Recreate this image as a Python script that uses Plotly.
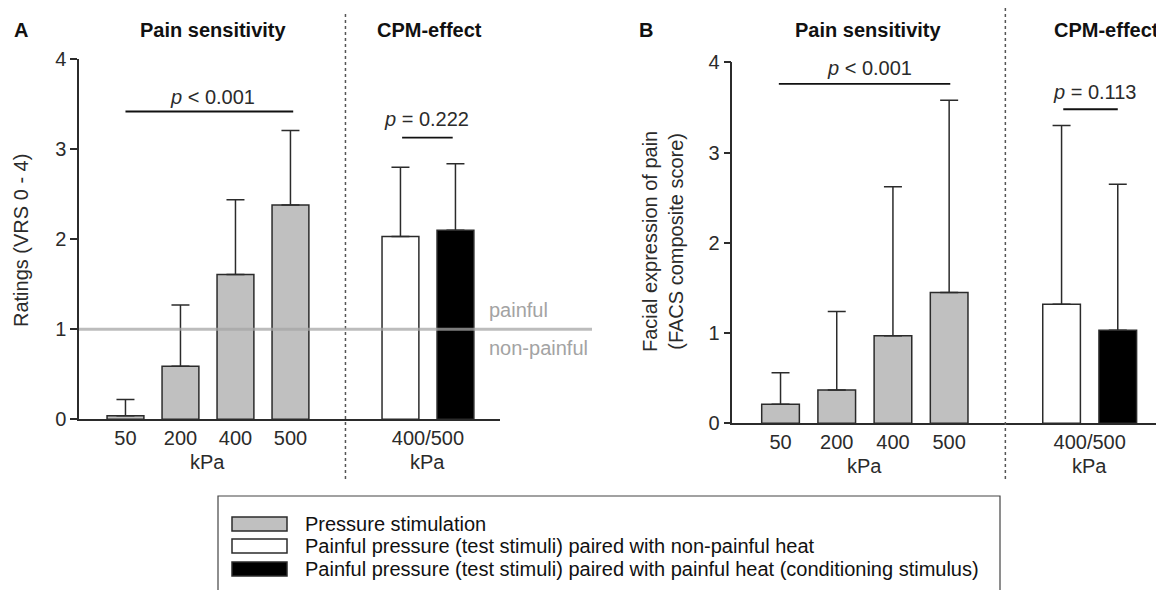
import plotly.graph_objects as go

# ---------------- data ----------------
pain_labels = ["50", "200", "400", "500"]
cpm_label = "400/500"
unit_label = "kPa"

# Panel A: ratings (VRS 0-4), mean and SD (upper error only)
a_pain_mean = [0.04, 0.59, 1.61, 2.38]
a_pain_sd = [0.18, 0.68, 0.83, 0.83]
a_cpm_mean = [2.03, 2.10]          # [non-painful heat, painful heat]
a_cpm_sd = [0.77, 0.74]

# Panel B: facial expression (FACS composite score)
b_pain_mean = [0.21, 0.37, 0.97, 1.45]
b_pain_sd = [0.35, 0.87, 1.65, 2.13]
b_cpm_mean = [1.32, 1.03]
b_cpm_sd = [1.98, 1.62]

p_text_a = ["<i>p</i> &lt; 0.001", "<i>p</i> = 0.222"]
p_text_b = ["<i>p</i> &lt; 0.001", "<i>p</i> = 0.113"]

section_titles = ["Pain sensitivity", "CPM-effect"]
ytitle_a = "Ratings (VRS 0 - 4)"
ytitle_b = "Facial expression of pain<br>(FACS composite score)"
legend_names = [
    "Pressure stimulation",
    "Painful pressure (test stimuli) paired with non-painful heat",
    "Painful pressure (test stimuli) paired with painful heat (conditioning stimulus)",
]
ref_labels = ["painful", "non-painful"]
ref_value = 1

# ---------------- layout helpers ----------------
W, H = 1156, 590
FONT = "Liberation Sans, Arial, sans-serif"
DARK = "#2b2b2b"
GRAY = "#c0c0c0"
fills = [GRAY, "#ffffff", "#000000"]


def px(x):
    return x / W


def py(y):
    return 1 - y / H


pain_x = list(range(len(pain_labels)))
sep_x = len(pain_labels)
cpm_x = [sep_x + 1, sep_x + 2]
cpm_center = (cpm_x[0] + cpm_x[1]) / 2
BW = 0.67

fig = go.Figure()


def add_panel(xa, ya, pm, ps, cm, cs):
    err = dict(type="data", symmetric=False, color=DARK, thickness=1.5, width=9)
    fig.add_trace(go.Bar(
        x=pain_x, y=pm, width=BW, xaxis=xa, yaxis=ya,
        marker=dict(color=fills[0], line=dict(color=DARK, width=1.5)),
        error_y=dict(array=ps, arrayminus=[0] * len(ps), **err),
        showlegend=False, name=legend_names[0]))
    for i in range(2):
        fig.add_trace(go.Bar(
            x=[cpm_x[i]], y=[cm[i]], width=BW, xaxis=xa, yaxis=ya,
            marker=dict(color=fills[i + 1], line=dict(color=DARK, width=1.5)),
            error_y=dict(array=[cs[i]], arrayminus=[0], **err),
            showlegend=False, name=legend_names[i + 1]))


add_panel("x", "y", a_pain_mean, a_pain_sd, a_cpm_mean, a_cpm_sd)
add_panel("x2", "y2", b_pain_mean, b_pain_sd, b_cpm_mean, b_cpm_sd)

tick_font = dict(family=FONT, size=20, color=DARK)
xcommon = dict(showline=True, linecolor=DARK, linewidth=1.5, ticks="",
               showgrid=False, zeroline=False, tickfont=tick_font,
               tickvals=pain_x + [cpm_center], ticktext=pain_labels + [cpm_label])
ycommon = dict(showline=True, linecolor=DARK, linewidth=1.5, ticks="outside",
               ticklen=7, tickwidth=1.5, tickcolor=DARK, range=[0, 4],
               tickvals=[0, 1, 2, 3, 4], showgrid=False, zeroline=False,
               tickfont=tick_font)

fig.update_layout(
    width=W, height=H, margin=dict(l=0, r=0, t=0, b=0, autoexpand=False),
    paper_bgcolor="white", plot_bgcolor="white", barmode="overlay",
    font=dict(family=FONT, size=20, color=DARK),
    xaxis=dict(domain=[px(79), px(500)], range=[-0.845, 6.81], anchor="y", **xcommon),
    yaxis=dict(domain=[py(419.3), py(59.3)], anchor="x", **ycommon),
    xaxis2=dict(domain=[px(732.3), 1.0], range=[-0.858, 6.68], anchor="y2", **xcommon),
    yaxis2=dict(domain=[py(423.3), py(62.3)], anchor="x2", **ycommon),
)

shapes = []
ann = []

# separators
for xr, ytop in (("x", 14), ("x2", 8)):
    shapes.append(dict(type="line", xref=xr, yref="paper", x0=sep_x, x1=sep_x,
                       y0=py(ytop), y1=py(482), line=dict(color="#555", width=1.5, dash="dot")))

# significance brackets
brackets = [
    ("x", "y", -0.0, 3.05, 3.42, 1.59, 3.58, p_text_a[0]),
    ("x", "y", 5.03, 5.95, 3.13, 5.48, 3.34, p_text_a[1]),
    ("x2", "y2", -0.03, 3.02, 3.76, 1.59, 3.94, p_text_b[0]),
    ("x2", "y2", 5.03, 6.0, 3.48, 5.58, 3.67, p_text_b[1]),
]
for xr, yr, x0, x1, yb, xt, yt, t in brackets:
    shapes.append(dict(type="line", xref=xr, yref=yr, x0=x0, x1=x1, y0=yb, y1=yb,
                       line=dict(color="#111", width=1.8)))
    ann.append(dict(xref=xr, yref=yr, x=xt, y=yt, text=t, showarrow=False,
                    font=dict(size=20, color=DARK), xanchor="center", yanchor="middle"))

# reference line (painful threshold) in panel A
shapes.append(dict(type="line", xref="paper", yref="y", x0=px(79), x1=px(592),
                   y0=ref_value, y1=ref_value, layer="above",
                   line=dict(color="rgba(165,165,165,0.75)", width=3)))
ann.append(dict(xref="paper", yref="y", x=px(487), y=ref_value, yshift=19,
                text=ref_labels[0], showarrow=False, xanchor="left", yanchor="middle",
                font=dict(size=20, color="#a3a3a3")))
ann.append(dict(xref="paper", yref="y", x=px(487), y=ref_value, yshift=-19,
                text=ref_labels[1], showarrow=False, xanchor="left", yanchor="middle",
                font=dict(size=20, color="#a3a3a3")))

# kPa under tick groups
for xr, yr in (("x", "y"), ("x2", "y2")):
    for xc in ((pain_x[0] + pain_x[-1]) / 2, cpm_center):
        ann.append(dict(xref=xr, yref=yr, x=xc, y=0, yshift=-43, text=unit_label,
                        showarrow=False, xanchor="center", yanchor="middle",
                        font=dict(size=20, color=DARK)))

# panel letters and section titles
bold = dict(size=20, color="#111")
for x, t, anc in ((21, "<b>A</b>", "center"), (213, "<b>%s</b>" % section_titles[0], "center"),
                  (429, "<b>%s</b>" % section_titles[1], "center"),
                  (646, "<b>B</b>", "center"), (868, "<b>%s</b>" % section_titles[0], "center"),
                  (1052, "<b>%s</b>" % section_titles[1], "left")):
    ann.append(dict(xref="paper", yref="paper", x=px(x), y=py(30), text=t, showarrow=False,
                    xanchor=anc, yanchor="middle", font=bold))

# y-axis titles
ann.append(dict(xref="paper", yref="paper", x=px(21), y=py(241), text=ytitle_a,
                textangle=-90, showarrow=False, xanchor="center", yanchor="middle",
                font=dict(size=20, color=DARK)))
ann.append(dict(xref="paper", yref="paper", x=px(663), y=py(242), text=ytitle_b,
                textangle=-90, showarrow=False, xanchor="center", yanchor="middle",
                font=dict(size=20, color=DARK)))

# legend box
shapes.append(dict(type="rect", xref="paper", yref="paper", x0=px(218), x1=px(1000),
                   y0=py(600), y1=py(496), line=dict(color="#444", width=1.2),
                   fillcolor="rgba(0,0,0,0)"))
rows = [524, 546, 569]
for i, (name, fc) in enumerate(zip(legend_names, fills)):
    yc = rows[i]
    shapes.append(dict(type="rect", xref="paper", yref="paper", x0=px(232), x1=px(287),
                       y0=py(yc + 7), y1=py(yc - 7), fillcolor=fc,
                       line=dict(color=DARK, width=1.5)))
    ann.append(dict(xref="paper", yref="paper", x=px(303), y=py(yc), text=name,
                    showarrow=False, xanchor="left", yanchor="middle",
                    font=dict(size=20, color="#111")))

fig.update_layout(shapes=shapes, annotations=ann)
fig.write_html(
    "out.html",
    config={"displayModeBar": False},
    post_script="document.body.style.margin='0';document.body.style.overflow='hidden';",
)
